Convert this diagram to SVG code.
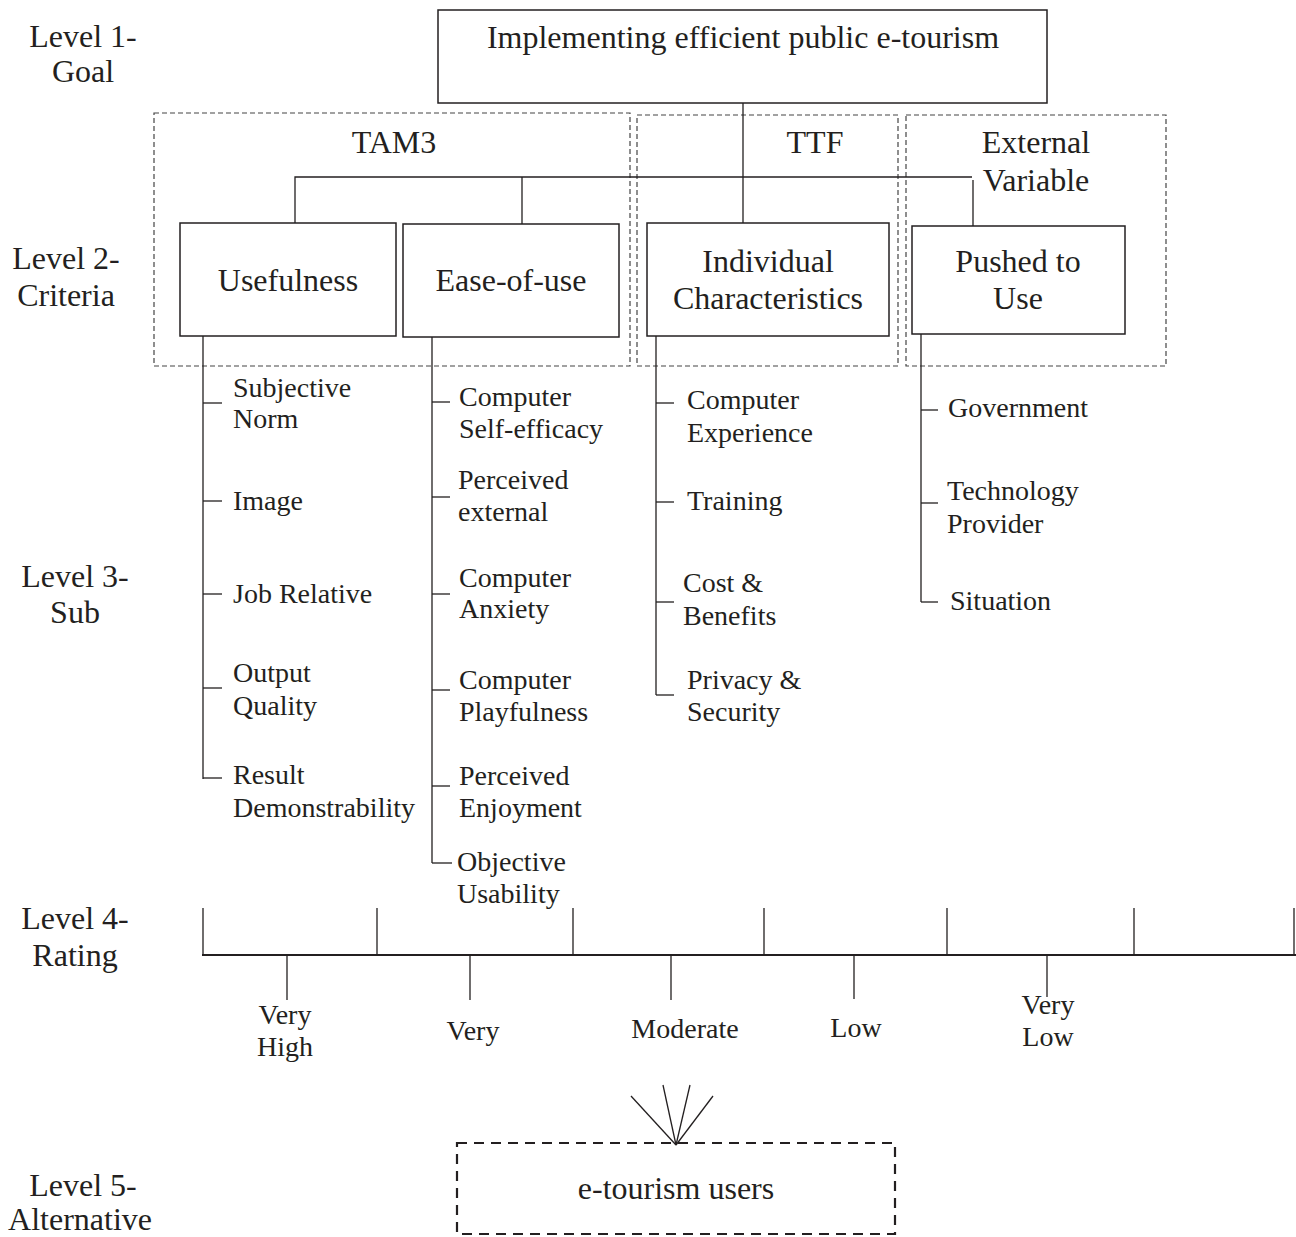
<svg xmlns="http://www.w3.org/2000/svg" width="1296" height="1237" viewBox="0 0 1296 1237">
<style>
text{font-family:"Liberation Serif","Times New Roman",serif;fill:#231f20}
.lg{font-size:32px}
.sm{font-size:28px}
.c{text-anchor:middle}
.box{fill:#fff;stroke:#231f20;stroke-width:1.5}
.grp{fill:none;stroke:#444;stroke-width:1.2;stroke-dasharray:5 3}
.ln{fill:none;stroke:#231f20;stroke-width:1.3}
.alt{fill:none;stroke:#231f20;stroke-width:2.2;stroke-dasharray:10 7}
</style>
<rect width="1296" height="1237" fill="#fff"/>

<g id="levels">
<text class="lg c" x="83" y="47">Level 1-</text>
<text class="lg c" x="83" y="82">Goal</text>
<text class="lg c" x="66" y="269">Level 2-</text>
<text class="lg c" x="66" y="306">Criteria</text>
<text class="lg c" x="75" y="587">Level 3-</text>
<text class="lg c" x="75" y="623">Sub</text>
<text class="lg c" x="75" y="929">Level 4-</text>
<text class="lg c" x="75" y="966">Rating</text>
<text class="lg c" x="83" y="1196">Level 5-</text>
<text class="lg c" x="80" y="1230">Alternative</text>
</g>

<g id="group-tam3">
<rect class="grp" x="154" y="113" width="476" height="253"/>
<text class="lg c" x="394" y="153">TAM3</text>
</g>
<g id="group-ttf">
<rect class="grp" x="637" y="115" width="261" height="251"/>
<text class="lg c" x="815" y="153">TTF</text>
</g>
<g id="group-external">
<rect class="grp" x="906" y="115" width="260" height="251"/>
<text class="lg c" x="1036" y="153">External</text>
<text class="lg c" x="1036" y="191">Variable</text>
</g>

<g id="connectors">
<line class="ln" x1="743" y1="103" x2="743" y2="223"/>
<polyline class="ln" points="295,223 295,177 972,177"/>
<line class="ln" x1="522" y1="177" x2="522" y2="224"/>
<line class="ln" x1="973" y1="180" x2="973" y2="226"/>
<!-- usefulness subs -->
<line class="ln" x1="203" y1="336" x2="203" y2="779"/>
<line class="ln" x1="203" y1="403" x2="222" y2="403"/>
<line class="ln" x1="203" y1="501" x2="222" y2="501"/>
<line class="ln" x1="203" y1="594" x2="222" y2="594"/>
<line class="ln" x1="203" y1="688" x2="222" y2="688"/>
<line class="ln" x1="203" y1="778" x2="222" y2="778"/>
<!-- ease subs -->
<line class="ln" x1="432" y1="337" x2="432" y2="863"/>
<line class="ln" x1="432" y1="402" x2="450" y2="402"/>
<line class="ln" x1="432" y1="497" x2="450" y2="497"/>
<line class="ln" x1="432" y1="594" x2="450" y2="594"/>
<line class="ln" x1="432" y1="690" x2="450" y2="690"/>
<line class="ln" x1="432" y1="786" x2="450" y2="786"/>
<line class="ln" x1="432" y1="863" x2="452" y2="863"/>
<!-- individual subs -->
<line class="ln" x1="656" y1="336" x2="656" y2="695"/>
<line class="ln" x1="656" y1="403" x2="674" y2="403"/>
<line class="ln" x1="656" y1="502" x2="674" y2="502"/>
<line class="ln" x1="656" y1="602" x2="674" y2="602"/>
<line class="ln" x1="656" y1="695" x2="674" y2="695"/>
<!-- pushed subs -->
<line class="ln" x1="921" y1="334" x2="921" y2="602"/>
<line class="ln" x1="921" y1="410" x2="938" y2="410"/>
<line class="ln" x1="921" y1="503" x2="938" y2="503"/>
<line class="ln" x1="921" y1="602" x2="938" y2="602"/>
<!-- rating scale -->
<line class="ln" x1="202" y1="955" x2="1296" y2="955" style="stroke-width:1.8"/>
<line class="ln" x1="203" y1="908" x2="203" y2="955"/>
<line class="ln" x1="377" y1="908" x2="377" y2="955"/>
<line class="ln" x1="573" y1="908" x2="573" y2="955"/>
<line class="ln" x1="764" y1="908" x2="764" y2="955"/>
<line class="ln" x1="947" y1="908" x2="947" y2="955"/>
<line class="ln" x1="1134" y1="908" x2="1134" y2="955"/>
<line class="ln" x1="1294" y1="908" x2="1294" y2="955"/>
<line class="ln" x1="287" y1="955" x2="287" y2="1000"/>
<line class="ln" x1="470" y1="955" x2="470" y2="1000"/>
<line class="ln" x1="671" y1="955" x2="671" y2="1000"/>
<line class="ln" x1="854" y1="955" x2="854" y2="999"/>
<line class="ln" x1="1047" y1="955" x2="1047" y2="997"/>
<!-- fan into alternative -->
<line class="ln" x1="631" y1="1096" x2="676" y2="1145"/>
<line class="ln" x1="663" y1="1085" x2="676" y2="1145"/>
<line class="ln" x1="690" y1="1085" x2="676" y2="1145"/>
<line class="ln" x1="713" y1="1096" x2="676" y2="1145"/>
</g>

<g id="goal">
<rect class="box" x="438" y="10" width="609" height="93"/>
<text class="lg c" x="743" y="48">Implementing efficient public e-tourism</text>
</g>
<g id="usefulness">
<rect class="box" x="180" y="223" width="216" height="113"/>
<text class="lg c" x="288" y="291">Usefulness</text>
</g>
<g id="ease-of-use">
<rect class="box" x="403" y="224" width="216" height="113"/>
<text class="lg c" x="511" y="291">Ease-of-use</text>
</g>
<g id="individual">
<rect class="box" x="647" y="223" width="242" height="113"/>
<text class="lg c" x="768" y="272">Individual</text>
<text class="lg c" x="768" y="309">Characteristics</text>
</g>
<g id="pushed">
<rect class="box" x="912" y="226" width="213" height="108"/>
<text class="lg c" x="1018" y="272">Pushed to</text>
<text class="lg c" x="1018" y="309">Use</text>
</g>

<g id="sub-usefulness">
<text class="sm" x="233" y="397">Subjective</text>
<text class="sm" x="233" y="428">Norm</text>
<text class="sm" x="233" y="510">Image</text>
<text class="sm" x="233" y="603">Job Relative</text>
<text class="sm" x="233" y="682">Output</text>
<text class="sm" x="233" y="715">Quality</text>
<text class="sm" x="233" y="784">Result</text>
<text class="sm" x="233" y="817">Demonstrability</text>
</g>
<g id="sub-ease">
<text class="sm" x="459" y="406">Computer</text>
<text class="sm" x="459" y="438">Self-efficacy</text>
<text class="sm" x="458" y="489">Perceived</text>
<text class="sm" x="458" y="521">external</text>
<text class="sm" x="459" y="587">Computer</text>
<text class="sm" x="459" y="618">Anxiety</text>
<text class="sm" x="459" y="689">Computer</text>
<text class="sm" x="459" y="721">Playfulness</text>
<text class="sm" x="459" y="785">Perceived</text>
<text class="sm" x="459" y="817">Enjoyment</text>
<text class="sm" x="457" y="871">Objective</text>
<text class="sm" x="457" y="903">Usability</text>
</g>
<g id="sub-individual">
<text class="sm" x="687" y="409">Computer</text>
<text class="sm" x="687" y="442">Experience</text>
<text class="sm" x="687" y="510">Training</text>
<text class="sm" x="683" y="592">Cost &amp;</text>
<text class="sm" x="683" y="625">Benefits</text>
<text class="sm" x="687" y="689">Privacy &amp;</text>
<text class="sm" x="687" y="721">Security</text>
</g>
<g id="sub-pushed">
<text class="sm" x="948" y="417">Government</text>
<text class="sm" x="947" y="500">Technology</text>
<text class="sm" x="947" y="533">Provider</text>
<text class="sm" x="950" y="610">Situation</text>
</g>

<g id="ratings">
<text class="sm c" x="285" y="1024">Very</text>
<text class="sm c" x="285" y="1056">High</text>
<text class="sm c" x="473" y="1040">Very</text>
<text class="sm c" x="685" y="1038">Moderate</text>
<text class="sm c" x="856" y="1037">Low</text>
<text class="sm c" x="1048" y="1014">Very</text>
<text class="sm c" x="1048" y="1046">Low</text>
</g>

<g id="alternative">
<rect class="alt" x="457" y="1143" width="438" height="91"/>
<text class="lg c" x="676" y="1199">e-tourism users</text>
</g>
</svg>
